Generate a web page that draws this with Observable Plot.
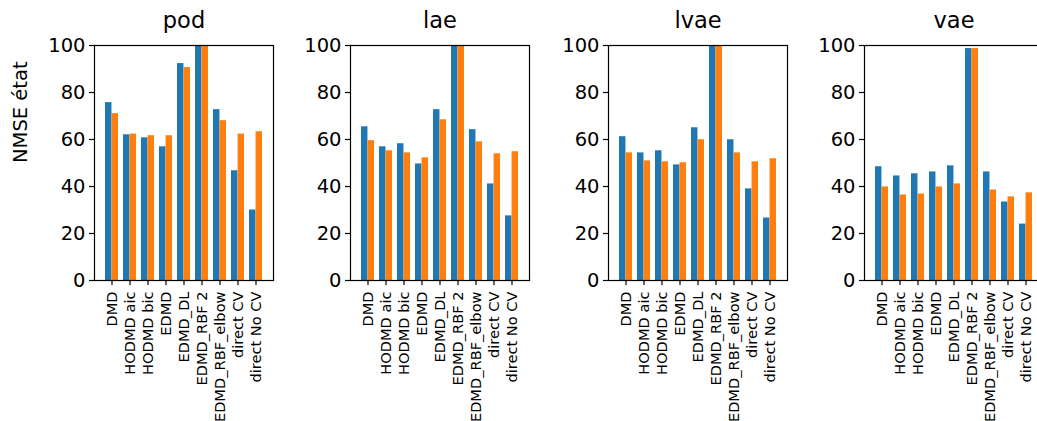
<!DOCTYPE html>
<html>
<head>
<meta charset="utf-8">
<script src="https://cdn.jsdelivr.net/npm/d3@7"></script>
<script src="https://cdn.jsdelivr.net/npm/@observablehq/plot@0.6"></script>
<style>
  html, body { margin: 0; padding: 0; background: white; }
  #wrap { position: relative; width: 1037px; height: 421px; overflow: hidden; background: white; }
  #wrap > div { position: absolute; top: 0; }
  #wrap svg { max-width: none !important; }
</style>
</head>
<body>
<div id="wrap"></div>
<script>
const panels = ["pod", "lae", "lvae", "vae"];
const methods = ["DMD", "HODMD aic", "HODMD bic", "EDMD", "EDMD_DL", "EDMD_RBF 2", "EDMD_RBF_elbow", "direct CV", "direct No CV"];
const yTicks = [0, 20, 40, 60, 80, 100];
const yLabel = "NMSE état";

const podBlue    = [75.7, 62.0, 60.7, 56.9, 92.3, 100, 72.7, 46.7, 30.0];
const podOrange  = [71.0, 62.3, 61.6, 61.6, 90.6, 100, 68.0, 62.3, 63.3];
const laeBlue    = [65.4, 56.9, 58.2, 49.6, 72.7, 100, 64.2, 41.1, 27.5];
const laeOrange  = [59.5, 55.2, 54.3, 52.2, 68.4, 100, 59.0, 53.9, 54.8];
const lvaeBlue   = [61.2, 54.3, 55.2, 49.2, 65.0, 100, 59.9, 39.0, 26.6];
const lvaeOrange = [54.3, 50.9, 50.5, 50.1, 59.9, 100, 54.3, 50.5, 51.8];
const vaeBlue    = [48.4, 44.5, 45.4, 46.2, 48.8, 98.7, 46.2, 33.4, 24.0];
const vaeOrange  = [39.8, 36.4, 36.8, 39.8, 41.1, 98.7, 38.5, 35.6, 37.3];

const blues = [podBlue, laeBlue, lvaeBlue, vaeBlue];
const oranges = [podOrange, laeOrange, lvaeOrange, vaeOrange];

const frameLefts = [94, 350, 608, 864];
const FW = 179;
const ML = 94, MR = 12;
const step = FW / (methods.length - 0.3 + 2 * 0.435);
const half = step * 0.35;

const wrap = document.getElementById("wrap");
panels.forEach((name, idx) => {
  const rows = methods.map((m, i) => ({method: m, blue: blues[idx][i], orange: oranges[idx][i]}));
  const W = ML + FW + MR;
  const chart = Plot.plot({
    width: W,
    height: 421,
    marginTop: 45,
    marginBottom: 141,
    marginLeft: ML,
    marginRight: MR,
    style: {background: "transparent", fontFamily: "DejaVu Sans", overflow: "visible", color: "black", maxWidth: "none"},
    x: {type: "band", domain: methods, paddingInner: 0.3, paddingOuter: 0.435},
    y: {domain: [0, 100]},
    marks: [
      Plot.barY(rows, {x: "method", y: "blue", fill: "#1f77b4", insetLeft: 0, insetRight: half}),
      Plot.barY(rows, {x: "method", y: "orange", fill: "#ff7f0e", insetLeft: half, insetRight: 0}),
      Plot.frame({stroke: "black", strokeWidth: 1.2}),
      Plot.axisY({ticks: yTicks, tickSize: 5, tickPadding: 4, fontSize: 19.5, label: null, strokeWidth: 1.2}),
      Plot.axisX({tickRotate: -90, tickSize: 5, tickPadding: 6, fontSize: 14.6, label: null, strokeWidth: 1.2}),
      Plot.text([name], {frameAnchor: "top", dy: -18, lineAnchor: "bottom", fontSize: 22.5, fill: "black"}),
      idx === 0 ? Plot.text([yLabel], {frameAnchor: "left", dx: -74, rotate: -90, fontSize: 19.5, fill: "black"}) : null
    ]
  });
  const holder = document.createElement("div");
  holder.style.left = (frameLefts[idx] - ML) + "px";
  holder.style.width = W + "px";
  holder.appendChild(chart);
  wrap.appendChild(holder);
});
</script>
</body>
</html>
